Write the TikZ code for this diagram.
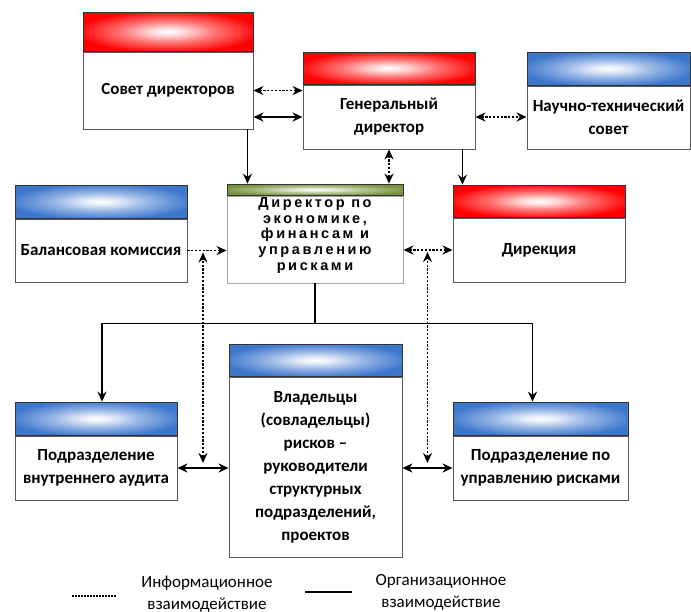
\documentclass[tikz,border=0pt]{standalone}
\usepackage{fontspec}
\setmainfont{Carlito}
\newfontfamily\dirfont[LetterSpace=18]{Liberation Sans}
\usetikzlibrary{arrows.meta,calc,positioning}

\definecolor{hdrred}{RGB}{255,0,0}
\definecolor{hdrblue}{RGB}{60,118,205}
\definecolor{hdrgreen}{RGB}{118,146,60}
\colorlet{hdrcol}{hdrred}
\pgfdeclareradialshading[hdrcol]{hdrglow}{\pgfpoint{0bp}{0bp}}{%
  color(0bp)=(white); color(5bp)=(white!85!hdrcol); color(14bp)=(white!45!hdrcol);
  color(27bp)=(hdrcol); color(50bp)=(hdrcol)}

\begin{document}
\begin{tikzpicture}[x=1pt, y=-1pt,
    hdr/.style={/utils/exec={\colorlet{hdrcol}{#1}}, shading=hdrglow, shade, draw=black!80, line width=0.9pt, inner sep=0pt, anchor=south},
    body/.style={draw=black!65, line width=0.9pt, fill=white, inner sep=0pt, align=center, font={\fontsize{17}{23}\selectfont\bfseries}},
    info/.style={line width=1.8pt, dash pattern=on 2.2pt off 1.6pt, >={Stealth[length=10pt,width=9pt]}},
    org/.style={line width=1.8pt, >={Stealth[length=10pt,width=9pt]}},
    legtext/.style={align=center, font={\fontsize{17}{22}\selectfont}}
]
\useasboundingbox (0,0) rectangle (691,611);

% Top row
\node[body, minimum width=170pt, minimum height=77pt] (sovet) at (168,90.5) {Совет директоров};
\node[hdr=hdrred, minimum width=170pt, minimum height=39pt] (sovet-h) at (sovet.north) {};
\node[body, minimum width=172pt, minimum height=64pt] (gendir) at (389,117) {Генеральный\\директор};
\node[hdr=hdrred, minimum width=172pt, minimum height=32pt] (gendir-h) at (gendir.north) {};
\node[body, minimum width=163pt, minimum height=63pt] (nts) at (608.5,117.5) {Научно-технический\\совет};
\node[hdr=hdrblue, minimum width=163pt, minimum height=33pt] (nts-h) at (nts.north) {};

% Middle row
\node[body, minimum width=172pt, minimum height=63pt] (balans) at (101,250.5) {Балансовая комиссия};
\node[hdr=hdrblue, minimum width=172pt, minimum height=33pt] (balans-h) at (balans.north) {};
\node[body, draw=black!35, minimum width=176pt, minimum height=87pt] (dir) at (315,239.5) {};
\node[hdr=hdrgreen, minimum width=176pt, minimum height=11pt] (dir-h) at (dir.north) {};
\begin{scope}
  \clip (dir.north west) rectangle ([yshift=11pt]dir.south east);
  \node[anchor=north, inner sep=0pt, align=center, font={\dirfont\fontsize{14.5}{15.8}\selectfont\bfseries}] (dir-t) at ([yshift=-1.5pt]dir.north) {Директор по\\экономике,\\финансам и\\управлению\\рисками};
\end{scope}
\node[body, minimum width=172pt, minimum height=64pt] (direk) at (539,250) {Дирекция};
\node[hdr=hdrred, minimum width=172pt, minimum height=32pt] (direk-h) at (direk.north) {};

% Bottom row
\node[body, minimum width=162pt, minimum height=64pt] (audit) at (96,468) {Подразделение\\внутреннего аудита};
\node[hdr=hdrblue, minimum width=162pt, minimum height=33pt] (audit-h) at (audit.north) {};
\node[body, minimum width=173pt, minimum height=180pt] (owners) at (315.5,467) {Владельцы\\(совладельцы)\\рисков –\\руководители\\структурных\\подразделений,\\проектов};
\node[hdr=hdrblue, minimum width=173pt, minimum height=32pt] (owners-h) at (owners.north) {};
\node[body, minimum width=175pt, minimum height=64pt] (risk) at (540.5,468) {Подразделение по\\управлению рисками};
\node[hdr=hdrblue, minimum width=175pt, minimum height=33pt] (risk-h) at (risk.north) {};

% Links between the top boxes
\draw[info,<->] (sovet.east) -- (sovet.east -| gendir.west);
\draw[org,<->] (gendir.west -| sovet.east) -- (gendir.west);
\draw[info,<->] (gendir.east) -- (gendir.east -| nts.west);

% Down to the director and the directorate
\draw[org,->] ([xshift=-6pt]sovet.south east) -- ([xshift=-6pt]sovet.south east |- dir-h.north);
\draw[info,<->] (gendir.south) -- (gendir.south |- dir-h.north);
\draw[org,->] ([xshift=-13pt]gendir.south east) -- ([xshift=-13pt]gendir.south east |- direk-h.north);

% Side links of the director
\draw[info,->] (balans.east) -- (balans.east -| dir.west);
\draw[info,<->] (direk.west -| dir.east) -- (direk.west);

% Branch down to the units
\draw[org,->] (dir.south) -- ++(0,40) -| ([xshift=6pt]audit-h.north);
\draw[org,->] (dir.south) -- ++(0,40) -| ([xshift=-8pt]risk-h.north);

% Links at the bottom
\draw[org,<->] (audit.east) -- (owners.west |- audit.east);
\draw[org,<->] (owners.east |- risk.west) -- (risk.west);
\coordinate (lmid) at ($(audit.east)!.5!(owners.west |- audit.east)$);
\coordinate (rmid) at ($(owners.east |- risk.west)!.5!(risk.west)$);
\draw[info,<->] ([yshift=5pt]lmid) -- ([yshift=-2pt]lmid |- balans.east);
\draw[info,<->] ([yshift=5pt]rmid) -- ([yshift=-2pt]rmid |- direk.west);

% Legend
\node[legtext] (leg-info) at (207,594) {Информационное\\взаимодействие};
\node[legtext] (leg-org) at (441,592) {Организационное\\взаимодействие};
\draw[line width=1.3pt, dash pattern=on 1.5pt off 1.5pt] (72,596) -- (117,596);
\draw[line width=1.8pt] (305,592) -- (352,592);

\end{tikzpicture}
\end{document}
